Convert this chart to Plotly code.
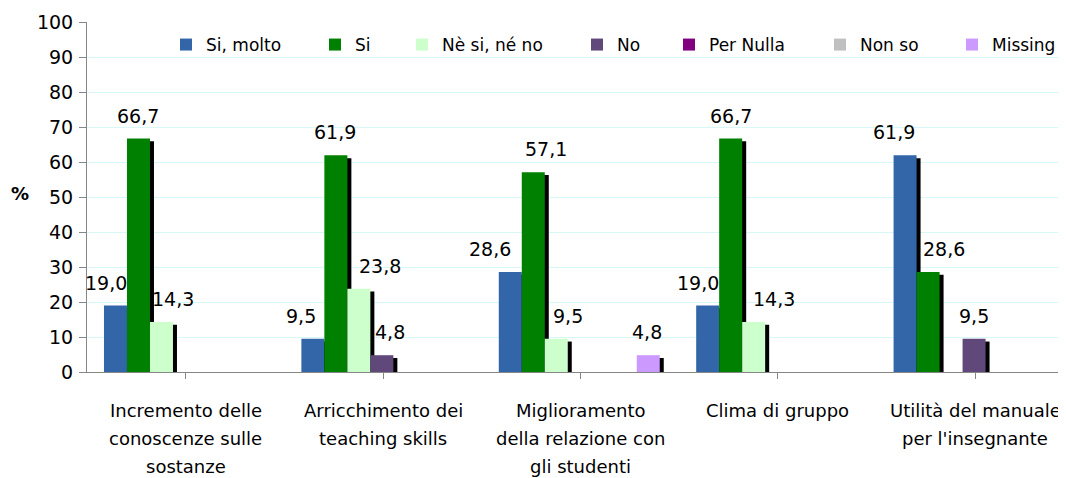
import plotly.graph_objects as go

categories = [
    "Incremento delle<br>conoscenze sulle<br>sostanze",
    "Arricchimento dei<br>teaching skills",
    "Miglioramento<br>della relazione con<br>gli studenti",
    "Clima di gruppo",
    "Utilità del manuale<br>per l'insegnante",
]
series_names = ["Si, molto", "Si", "Nè si, né no", "No", "Per Nulla", "Non so", "Missing"]
si_molto = [19.0, 9.5, 28.6, 19.0, 61.9]
si = [66.7, 61.9, 57.1, 66.7, 28.6]
ne_si_ne_no = [14.3, 23.8, 9.5, 14.3, 0.0]
no = [0.0, 4.8, 0.0, 0.0, 9.5]
per_nulla = [0.0, 0.0, 0.0, 0.0, 0.0]
non_so = [0.0, 0.0, 0.0, 0.0, 0.0]
missing = [0.0, 0.0, 4.8, 0.0, 0.0]
y_ticks = [0, 10, 20, 30, 40, 50, 60, 70, 80, 90, 100]

series_values = [si_molto, si, ne_si_ne_no, no, per_nulla, non_so, missing]
colors = ["#3366A8", "#008000", "#CCFFCC", "#60497A", "#800080", "#C0C0C0", "#CC99FF"]

# label nudges (px) imitating Excel's collision avoidance
label_nudge = {
    (0, 0): -9, (0, 1): 0, (0, 2): 12,
    (1, 0): -12, (1, 1): -1, (1, 2): 21, (1, 3): 8,
    (2, 0): -20, (2, 1): 13, (2, 2): 12, (2, 6): -1,
    (3, 0): -10, (3, 1): 0, (3, 2): 20,
    (4, 0): -11, (4, 1): 16, (4, 3): 0,
}

FONT = "DejaVu Sans"
W = 0.1165
OFF0 = -0.414
SH_DX = 0.0203
SH_DROP = 0.8
xidx = list(range(len(categories)))

fig = go.Figure()
# shadows
for s, vals in enumerate(series_values):
    fig.add_trace(go.Bar(
        x=xidx, y=[max(v - SH_DROP, 0) if v > 0 else 0 for v in vals],
        width=W, offset=OFF0 + s * W + SH_DX,
        marker=dict(color="#000000", line=dict(width=0)),
        showlegend=False, hoverinfo="skip",
    ))
# main bars
for s, (name, vals) in enumerate(zip(series_names, series_values)):
    fig.add_trace(go.Bar(
        x=xidx, y=vals, name=name,
        width=W, offset=OFF0 + s * W,
        marker=dict(color=colors[s], line=dict(width=0)),
        legend="legend" if s == 0 else f"legend{s+1}",
    ))

annotations = []
for s, vals in enumerate(series_values):
    for i, v in enumerate(vals):
        if v > 0:
            annotations.append(dict(
                x=i + OFF0 + (s + 0.5) * W, y=v, xref="x", yref="y",
                text=f"{v:.1f}".replace(".", ","), showarrow=False,
                yanchor="middle", xanchor="center", yshift=23,
                xshift=label_nudge.get((i, s), 0),
                font=dict(family=FONT, size=19, color="#000000"),
            ))
# category labels, one annotation per line for Excel-like line spacing
for i, cat in enumerate(categories):
    for k, line in enumerate(cat.split("<br>")):
        annotations.append(dict(
            x=i, y=0, xref="x", yref="y", text=line, showarrow=False,
            xanchor="center", yanchor="middle", yshift=-(38 + 28 * k),
            font=dict(family=FONT, size=18, color="#000000"),
        ))

# page body has an 8px default margin: compensate so the plot lands where the reference has it
PAGE_OFF = 8
PLOT_L = 87 - PAGE_OFF
PLOT_W = 1066 - PLOT_L


def px_to_paper_x(px):
    return (px - PAGE_OFF - PLOT_L) / PLOT_W


def py_to_paper_y(py):
    return (372 - py) / 350


annotations.append(dict(
    x=px_to_paper_x(20), y=py_to_paper_y(193), xref="paper", yref="paper", text="<b>%</b>",
    showarrow=False, xanchor="center", yanchor="middle",
    font=dict(family=FONT, size=18, color="#000000"),
))

legend_px = [185, 334, 421, 596, 688, 839, 971]
layout_legends = {}
for s, px in enumerate(legend_px):
    key = "legend" if s == 0 else f"legend{s+1}"
    layout_legends[key] = dict(
        x=px_to_paper_x(px - 19), xanchor="left",
        y=py_to_paper_y(45), yanchor="middle",
        orientation="h", bgcolor="rgba(255,255,255,0)",
        font=dict(family=FONT, size=17, color="#000000"),
        itemwidth=30, tracegroupgap=0,
    )

fig.update_layout(
    barmode="overlay",
    width=1066, height=478,
    margin=dict(l=PLOT_L, r=0, t=22 - PAGE_OFF, b=478 + PAGE_OFF - 372, autoexpand=False),
    paper_bgcolor="#FFFFFF", plot_bgcolor="#FFFFFF",
    font=dict(family=FONT, size=17, color="#000000"),
    annotations=annotations,
    shapes=[dict(type="rect", xref="paper", yref="paper",
                 x0=px_to_paper_x(160), x1=1.0,
                 y0=py_to_paper_y(68), y1=py_to_paper_y(25),
                 fillcolor="#FFFFFF", line=dict(width=0), layer="between")],
    **layout_legends,
)
fig.update_xaxes(
    range=[-0.5, -0.5 + PLOT_W / 197.4],
    tickmode="array", tickvals=xidx, ticktext=[""] * len(categories),
    tickson="boundaries", ticks="outside", ticklen=6, tickcolor="#868686",
    showline=True, linecolor="#868686", linewidth=1,
    showgrid=False, zeroline=False, automargin=False,
)
fig.update_yaxes(
    range=[0, 100], tickvals=y_ticks,
    ticks="outside", ticklen=7, tickcolor="#868686",
    showline=True, linecolor="#868686", linewidth=1,
    showgrid=True, gridcolor="#D8F8F8", gridwidth=1, zeroline=False,
    automargin=False, ticklabelstandoff=2,
    tickfont=dict(family=FONT, size=19, color="#000000"),
)

fig.write_html("out.html")
